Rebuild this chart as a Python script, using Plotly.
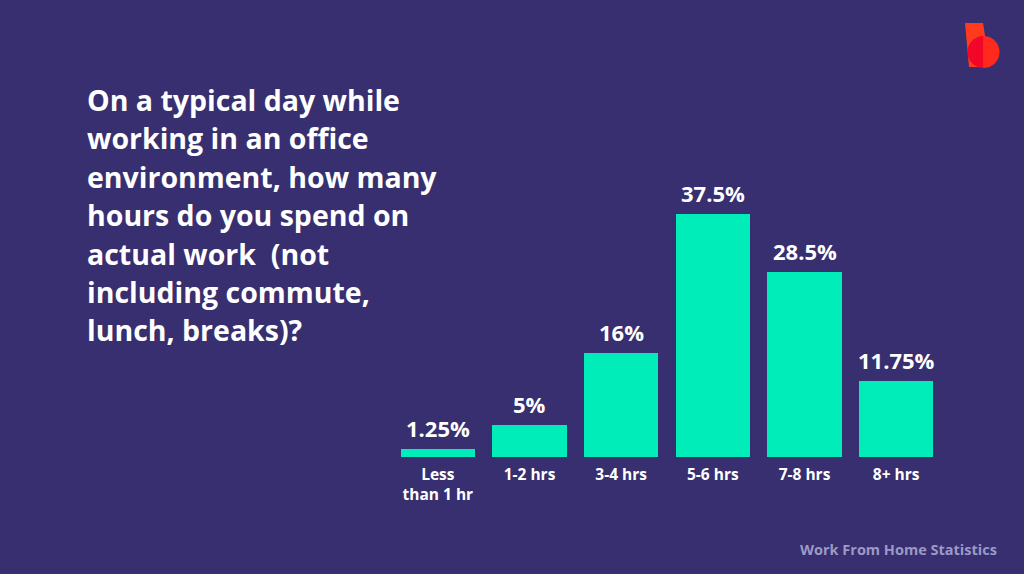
import math
import plotly.graph_objects as go

categories = ["Less<br>than 1 hr", "1-2 hrs", "3-4 hrs", "5-6 hrs", "7-8 hrs", "8+ hrs"]
values = [1.25, 5, 16, 37.5, 28.5, 11.75]
value_labels = ["1.25%", "5%", "16%", "37.5%", "28.5%", "11.75%"]
title_lines = ["On a typical day while", "working in an office", "environment, how many",
               "hours do you spend on", "actual work  (not", "including commute,",
               "lunch, breaks)?"]
source_text = "Work From Home Statistics"

BG = "#372F6F"
BAR = "#00EDB9"
W, H = 1024, 574
FONT = "Open Sans"

def px(x):
    return x / W

def py(y):
    return 1 - y / H

fig = go.Figure()
fig.add_trace(go.Bar(
    x=categories, y=values, marker=dict(color=BAR, line=dict(width=0)),
    width=0.81, hoverinfo="skip",
))

for c, v, t in zip(categories, values, value_labels):
    fig.add_annotation(x=c, y=v, xref="x", yref="y", text=t, showarrow=False,
                       yanchor="bottom", yshift=4,
                       font=dict(family=FONT, size=22, color="white", weight="bold"))

for i, line in enumerate(title_lines):
    fig.add_annotation(x=px(85), y=py(100 + i * 38.4), xref="paper", yref="paper", text=line,
                       showarrow=False, xanchor="left", yanchor="middle", align="left",
                       font=dict(family=FONT, size=28.5, color="white", weight="bold"))

fig.add_annotation(x=px(999), y=py(549), xref="paper", yref="paper", text=source_text,
                   showarrow=False, xanchor="right", yanchor="middle",
                   font=dict(family=FONT, size=14.5, color="#9D99C6", weight="bold"))

# logo
fig.add_shape(type="path", xref="paper", yref="paper",
              path=f"M {px(965)},{py(23)} L {px(983)},{py(23)} L {px(990)},{py(67)} L {px(969)},{py(67)} Z",
              fillcolor="#FF3B1F", line=dict(width=0), layer="above")
cx, cy, r = 983.5, 52, 16
left = [(cx + r * math.cos(a), cy + r * math.sin(a)) for a in
        [math.pi / 2 + k * math.pi / 24 for k in range(25)]]
right = [(cx + r * math.cos(a), cy + r * math.sin(a)) for a in
         [-math.pi / 2 + k * math.pi / 24 for k in range(25)]]
def poly(pts):
    return "M " + " L ".join(f"{px(x)},{py(y)}" for x, y in pts) + " Z"
fig.add_shape(type="path", xref="paper", yref="paper", path=poly(left),
              fillcolor="#F2062A", line=dict(width=0), layer="above")
fig.add_shape(type="path", xref="paper", yref="paper", path=poly(right),
              fillcolor="#FF2A1C", line=dict(width=0), layer="above")

fig.update_layout(
    width=W, height=H, margin=dict(l=0, r=0, t=0, b=0),
    paper_bgcolor=BG, plot_bgcolor=BG, showlegend=False,
    bargap=0,
    xaxis=dict(domain=[px(392), px(942)], showgrid=False, zeroline=False, showline=False,
               ticks="", ticklabelstandoff=6,
               tickfont=dict(family=FONT, size=15.5, color="white", weight="bold"),
               fixedrange=True),
    yaxis=dict(domain=[py(457), py(198)], range=[0, 40], visible=False, fixedrange=True),
)

fig.write_html("out.html")
